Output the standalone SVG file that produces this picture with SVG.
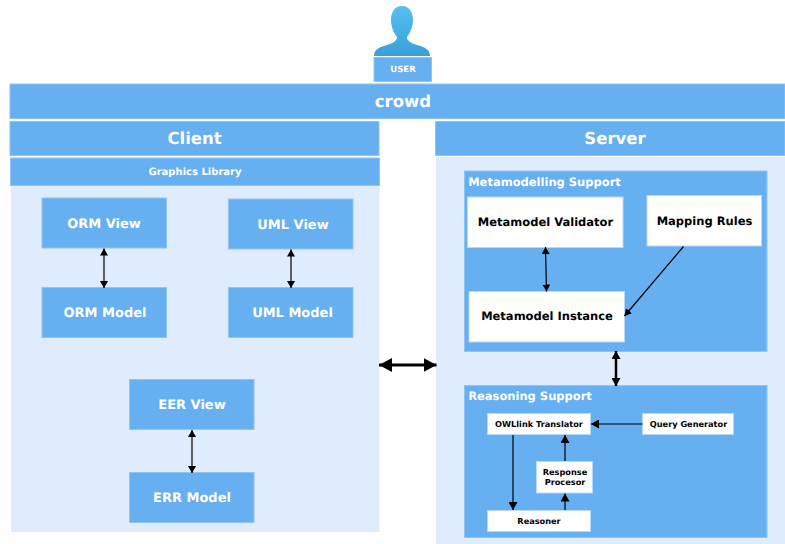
<svg xmlns="http://www.w3.org/2000/svg" width="785" height="544" viewBox="0 0 785 544">
<style>
text{font-family:"DejaVu Sans",sans-serif;font-weight:700;text-anchor:middle;text-rendering:geometricPrecision}
.b{fill:#66aff0;stroke:#8fc4f5;stroke-width:1}
.w{fill:#fff;stroke:#b9d9f8;stroke-width:1}
.l{fill:#dfecfe}
.t{fill:#fff}
.k{fill:#000}
.c{fill:none;stroke:#000;stroke-width:1.2}
</style>
<defs>
<linearGradient id="u" x1="0" y1="0" x2="0" y2="1"><stop offset="0" stop-color="#55c0f0"/><stop offset="1" stop-color="#3a9fd8"/></linearGradient>
<marker id="a" markerUnits="userSpaceOnUse" markerWidth="8" markerHeight="8" refX="7" refY="4" orient="auto-start-reverse"><path d="M0 0L7 4L0 8z" fill="#000"/></marker>
<marker id="m" markerUnits="userSpaceOnUse" markerWidth="9" markerHeight="9" refX="8" refY="4.5" orient="auto-start-reverse"><path d="M0 0L8 4.500L0 9z" fill="#000"/></marker>
<marker id="h" markerUnits="userSpaceOnUse" markerWidth="14" markerHeight="14" refX="13" refY="7" orient="auto-start-reverse"><path d="M0 0L13 7L0 14z" fill="#000"/></marker>
</defs>
<g id="user">
<path d="M402 6C395 6 391 12 391 20C391 27 394 33 397 37C397 41 393 43 387 45C380 47 374 49 374 56L430 56C430 49 424 47 417 45C411 43 407 41 407 37C410 33 413 27 413 20C413 12 409 6 402 6z" fill="url(#u)"/>
<rect class="b" x="374" y="57.500" width="57.500" height="24"/>
<text class="t" x="403" y="72" font-size="8.500">USER</text>
</g>
<g id="crowd"><rect class="b" x="10" y="84" width="775" height="34.500"/><text class="t" x="403" y="107" font-size="16.500">crowd</text></g>
<g id="client"><rect class="b" x="10" y="121.500" width="369" height="34"/><text class="t" x="194.500" y="143.500" font-size="16.500">Client</text></g>
<g id="client-panel"><rect class="l" x="11" y="186" width="368.500" height="346"/></g>
<g id="graphics"><rect class="b" x="10.500" y="158" width="369" height="27.500"/><text class="t" x="195" y="175" font-size="10">Graphics Library</text></g>
<g id="server"><rect class="b" x="435.500" y="121.500" width="349.500" height="34"/><text class="t" x="615" y="143.500" font-size="16.500">Server</text></g>
<g id="server-panel"><rect class="l" x="436" y="157" width="349" height="387"/></g>
<g id="orm-view"><rect class="b" x="42" y="198" width="124.500" height="50"/><text class="t" x="104" y="228" font-size="13">ORM View</text></g>
<g id="orm-model"><rect class="b" x="42" y="287.500" width="124.500" height="50"/><text class="t" x="105" y="317" font-size="13">ORM Model</text></g>
<g id="uml-view"><rect class="b" x="228.500" y="199" width="124.500" height="50"/><text class="t" x="293" y="229" font-size="13">UML View</text></g>
<g id="uml-model"><rect class="b" x="228.500" y="287.500" width="124.500" height="50"/><text class="t" x="292.500" y="317" font-size="13">UML Model</text></g>
<g id="eer-view"><rect class="b" x="129.500" y="379.500" width="124.500" height="50"/><text class="t" x="192" y="409" font-size="13">EER View</text></g>
<g id="err-model"><rect class="b" x="129.500" y="472.500" width="124.500" height="50"/><text class="t" x="192" y="502" font-size="13">ERR Model</text></g>
<g id="metamodelling"><rect class="b" x="464.500" y="171" width="302.500" height="180.500"/><text class="t" x="544.500" y="186" font-size="11.500">Metamodelling Support</text></g>
<g id="validator"><rect class="w" x="467.500" y="197" width="155.500" height="50.500"/><text class="k" x="545.500" y="226" font-size="11.500">Metamodel Validator</text></g>
<g id="rules"><rect class="w" x="647" y="195.500" width="114.500" height="50.500"/><text class="k" x="704.500" y="224.500" font-size="11.500">Mapping Rules</text></g>
<g id="instance"><rect class="w" x="469" y="291.500" width="155.500" height="50.500"/><text class="k" x="547" y="320" font-size="11.500">Metamodel Instance</text></g>
<g id="reasoning"><rect class="b" x="464.500" y="385.500" width="302.500" height="152"/><text class="t" x="530" y="400" font-size="11.500">Reasoning Support</text></g>
<g id="owl"><rect class="w" x="487.500" y="413.500" width="103" height="21"/><text class="k" x="539" y="427" font-size="8.200">OWLlink Translator</text></g>
<g id="query"><rect class="w" x="642.500" y="413.500" width="91" height="21"/><text class="k" x="688.500" y="427" font-size="8.200">Query Generator</text></g>
<g id="response"><rect class="w" x="536.500" y="461.500" width="56" height="31.500"/><text class="k" x="565" y="475" font-size="8.200">Response</text><text class="k" x="565" y="485" font-size="8.200">Procesor</text></g>
<g id="reasoner"><rect class="w" x="487.500" y="510.500" width="103" height="21"/><text class="k" x="539" y="524" font-size="8.200">Reasoner</text></g>
<g id="connectors">
<line class="c" x1="104" y1="248.500" x2="104" y2="288" marker-start="url(#a)" marker-end="url(#a)"/>
<line class="c" x1="291" y1="249.500" x2="291" y2="288" marker-start="url(#a)" marker-end="url(#a)"/>
<line class="c" x1="192" y1="430" x2="192" y2="473" marker-start="url(#a)" marker-end="url(#a)"/>
<line class="c" x1="545.500" y1="247" x2="546.500" y2="291.500" marker-start="url(#a)" marker-end="url(#a)"/>
<line class="c" x1="683.500" y1="246.500" x2="624.500" y2="316" marker-end="url(#a)"/>
<line x1="616" y1="351" x2="616" y2="386" stroke="#000" stroke-width="2.500" marker-start="url(#m)" marker-end="url(#m)"/>
<line x1="379" y1="365" x2="436.500" y2="365" stroke="#000" stroke-width="3" marker-start="url(#h)" marker-end="url(#h)"/>
<line class="c" x1="642.500" y1="424" x2="591" y2="424" marker-end="url(#m)"/>
<line class="c" x1="513" y1="435" x2="513" y2="510" marker-end="url(#m)"/>
<line class="c" x1="565" y1="461" x2="565" y2="435" marker-end="url(#m)"/>
<line class="c" x1="565" y1="510" x2="565" y2="493.500" marker-end="url(#m)"/>
</g>
</svg>
